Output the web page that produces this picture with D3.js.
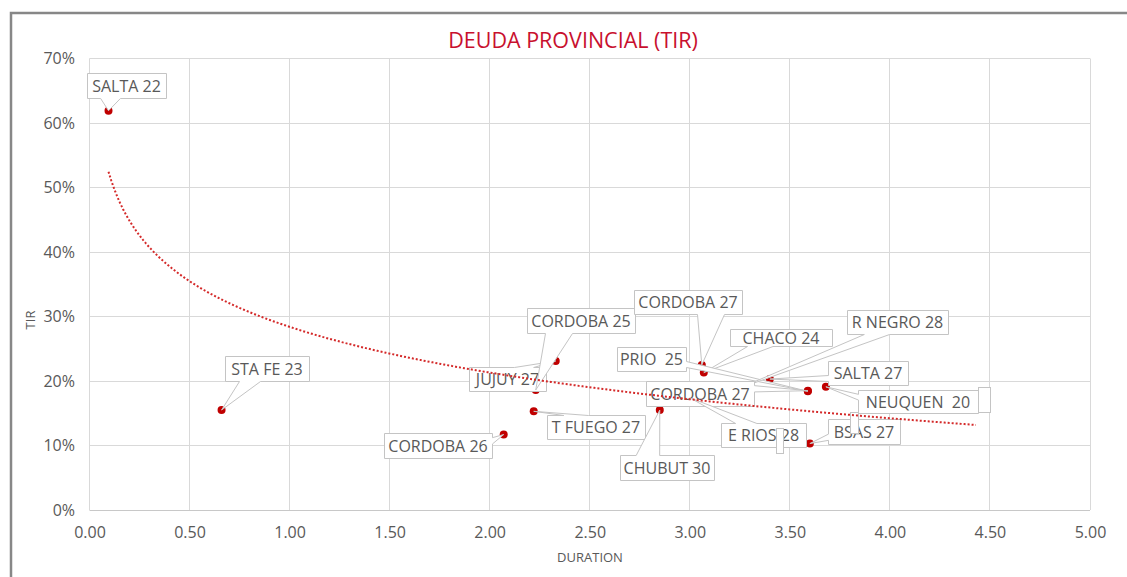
<!DOCTYPE html>
<html>
<head>
<meta charset="utf-8">
<script src="https://cdn.jsdelivr.net/npm/d3@7"></script>
<style>
  html, body { margin: 0; padding: 0; background: #fff; }
  svg { display: block; }
  text { font-family: "Open Sans", "Noto Sans", sans-serif; }
</style>
</head>
<body>
<svg id="chart" width="1127" height="577"></svg>
<script>
// ---------- DATA ----------
const names = ["SALTA 22", "STA FE 23", "CORDOBA 26", "JUJUY 27", "CORDOBA 25", "T FUEGO 27",
  "CHUBUT 30", "CORDOBA 27", "CHACO 24", "PRIO  25", "R NEGRO 28", "SALTA 27",
  "CORDOBA 27", "NEUQUEN  20", "E RIOS 28", "BSAS 27"];
const duration = [0.095, 0.66, 2.07, 2.33, 2.23, 2.22, 2.85, 3.06, 3.07, 3.59, 3.25, 3.40, 3.59, 3.68, 3.00, 3.60];
const tir = [61.9, 15.5, 11.7, 23.1, 18.6, 15.3, 15.5, 22.5, 21.3, 18.4, 18.9, 20.3, 18.5, 19.1, 17.4, 10.3];
const xTicks = [0, 0.5, 1, 1.5, 2, 2.5, 3, 3.5, 4, 4.5, 5];
const yTicks = [0, 10, 20, 30, 40, 50, 60, 70];
const titleText = "DEUDA PROVINCIAL (TIR)";
const xTitle = "DURATION";
const yTitle = "TIR";
const trendForward = 0.75; // trendline forecast forward (duration units)

// ---------- LAYOUT (label boxes, pixel: x, y, w, h, baseline offset) ----------
const labelBoxes = [
  [87, 73, 79, 25, 19], [225, 356, 84, 25, 19], [384, 433, 108, 25, 19], [469, 367, 77, 24, 18],
  [527, 308, 108, 25, 19], [547, 415, 98, 24, 18], [620, 455, 94, 25, 19], [634, 290, 108, 24, 18],
  [730, 329, 102, 17, 15], [617, 347, 69, 24, 18], [847, 310, 101, 24, 18], [828, 361, 80, 24, 18],
  [646, 381, 108, 25, 19], [858, 390, 120, 23, 18], [721, 423, 85, 24, 18], [828, 419, 72, 25, 19]
];
const stubBoxes = [[978, 387, 12, 25], [776, 428, 7, 25], [850, 412, 8, 21]];

const plot = { left: 89.5, right: 1090, top: 58.5, bottom: 510 };
const svg = d3.select("#chart");

// outer frame
svg.append("rect").attr("x", 11).attr("y", 13).attr("width", 1300).attr("height", 800)
  .attr("fill", "none").attr("stroke", "#878787").attr("stroke-width", 2.5);

const x = d3.scaleLinear().domain([0, 5]).range([plot.left, plot.right]);
const y = d3.scaleLinear().domain([0, 70]).range([plot.bottom, plot.top]);
const crisp = v => Math.round(v - 0.5) + 0.5;

// grid
const grid = svg.append("g");
grid.selectAll("line.v").data(xTicks).enter().append("line")
  .attr("x1", d => crisp(x(d))).attr("x2", d => crisp(x(d)))
  .attr("y1", plot.top).attr("y2", plot.bottom)
  .attr("stroke", "#d9d9d9").attr("stroke-width", 1);
grid.selectAll("line.h").data(yTicks).enter().append("line")
  .attr("x1", plot.left).attr("x2", plot.right)
  .attr("y1", d => crisp(y(d))).attr("y2", d => crisp(y(d)))
  .attr("stroke", d => d === 0 ? "#c8c8c8" : "#d9d9d9").attr("stroke-width", 1);

// axes (labels only)
const xAxis = svg.append("g").attr("transform", `translate(0,${plot.bottom})`)
  .call(d3.axisBottom(x).tickValues(xTicks).tickFormat(d3.format(".2f")).tickSize(0).tickPadding(17));
const yAxis = svg.append("g").attr("transform", `translate(${plot.left},0)`)
  .call(d3.axisLeft(y).tickValues(yTicks).tickFormat(d => d + "%").tickSize(0).tickPadding(14.5));
[xAxis, yAxis].forEach(a => {
  a.select(".domain").remove();
  a.selectAll("text").attr("fill", "#595959").style("font-size", "16px")
    .style("font-family", '"Open Sans", sans-serif');
});

// titles
svg.append("text").attr("x", 573).attr("y", 48).attr("text-anchor", "middle")
  .attr("fill", "#C8102E").style("font-size", "21.5px").text(titleText);
svg.append("text").attr("x", 590).attr("y", 562).attr("text-anchor", "middle")
  .attr("fill", "#595959").style("font-size", "13px").text(xTitle);
svg.append("text").attr("transform", "translate(35,320) rotate(-90)").attr("text-anchor", "middle")
  .attr("fill", "#595959").style("font-size", "13px").text(yTitle);

// points
const pts = names.map((n, i) => ({ name: n, dx: duration[i], ty: tir[i], box: labelBoxes[i] }));
svg.append("g").selectAll("circle").data(pts).enter().append("circle")
  .attr("cx", d => x(d.dx)).attr("cy", d => y(d.ty)).attr("r", 4)
  .attr("fill", "#C00000");

// callout path (Excel wedgeRectCallout geometry)
function callout(bx, by, w, h, tx, ty) {
  const hc = bx + w / 2, vc = by + h / 2;
  const dxPos = tx - hc, dyPos = ty - vc;
  const inside = tx >= bx && tx <= bx + w && ty >= by && ty <= by + h;
  if (inside) return `M${bx},${by}H${bx + w}V${by + h}H${bx}Z`;
  const dq = dxPos * h / w;
  const dz = Math.abs(dyPos) - Math.abs(dq);
  const x1 = bx + w * (dxPos > 0 ? 7 : 2) / 12, x2 = bx + w * (dxPos > 0 ? 10 : 5) / 12;
  const y1 = by + h * (dyPos > 0 ? 7 : 2) / 12, y2 = by + h * (dyPos > 0 ? 10 : 5) / 12;
  if (dz > 0) {
    if (dyPos < 0) return `M${bx},${by}L${x1},${by}L${tx},${ty}L${x2},${by}L${bx + w},${by}L${bx + w},${by + h}L${bx},${by + h}Z`;
    return `M${bx},${by}L${bx + w},${by}L${bx + w},${by + h}L${x2},${by + h}L${tx},${ty}L${x1},${by + h}L${bx},${by + h}Z`;
  } else {
    if (dxPos < 0) return `M${bx},${by}L${bx + w},${by}L${bx + w},${by + h}L${bx},${by + h}L${bx},${y2}L${tx},${ty}L${bx},${y1}Z`;
    return `M${bx},${by}L${bx + w},${by}L${bx + w},${y1}L${tx},${ty}L${bx + w},${y2}L${bx + w},${by + h}L${bx},${by + h}Z`;
  }
}

const labels = svg.append("g").selectAll("g").data(pts).enter().append("g");
labels.append("path")
  .attr("d", d => callout(d.box[0] + 0.5, d.box[1] + 0.5, d.box[2], d.box[3], x(d.dx), y(d.ty)))
  .attr("fill", "#fff").attr("stroke", "#c4c4c4").attr("stroke-width", 1);
labels.append("text")
  .attr("x", d => d.box[0] + d.box[2] / 2).attr("y", d => d.box[1] + d.box[4])
  .attr("text-anchor", "middle").attr("fill", "#595959").style("font-size", "16px")
  .style("white-space", "pre").text(d => d.name);

// stub artefacts
svg.append("g").selectAll("rect").data(stubBoxes).enter().append("rect")
  .attr("x", d => d[0] + 0.5).attr("y", d => d[1] + 0.5).attr("width", d => d[2]).attr("height", d => d[3])
  .attr("fill", "#fff").attr("stroke", "#c4c4c4");

// logarithmic trendline (least squares on ln(duration))
const lx = duration.map(Math.log);
const mx = d3.mean(lx), my = d3.mean(tir);
const sxy = d3.sum(lx, (v, i) => (v - mx) * (tir[i] - my));
const sxx = d3.sum(lx, v => (v - mx) * (v - mx));
const slope = sxy / sxx, intercept = my - slope * mx;
const x0 = d3.min(duration), x1 = d3.max(duration) + trendForward;
const trend = d3.range(0, 301).map(k => {
  const d = x0 + (x1 - x0) * k / 300;
  return [d, slope * Math.log(d) + intercept];
});
svg.append("path").datum(trend)
  .attr("d", d3.line().x(d => x(d[0])).y(d => y(d[1])))
  .attr("fill", "none").attr("stroke", "#D42A2A").attr("stroke-width", 2)
  .attr("stroke-dasharray", "2,2");
</script>
</body>
</html>
